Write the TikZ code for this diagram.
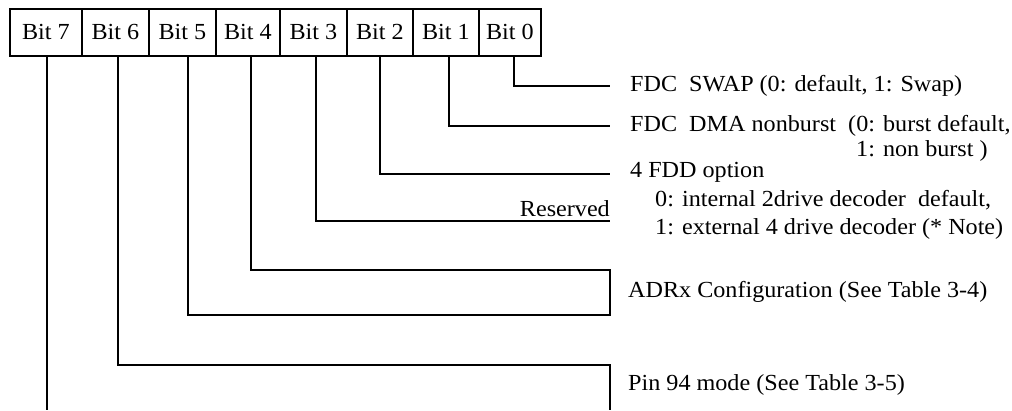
\documentclass[tikz,border=0pt]{standalone}
\usepackage{fontspec}
\setmainfont{Liberation Serif}[FakeStretch=1.05]
\begin{document}
\begin{tikzpicture}[x=1pt,y=-1pt,
  bitbox/.style={draw,line width=1.8pt,minimum height=47pt,inner sep=0pt,anchor=north west,font=\fontsize{23}{27}\selectfont},
  wire/.style={line width=2pt},
  lbl/.style={anchor=west,inner sep=0pt,font=\fontsize{23}{27}\selectfont,align=left}]
\useasboundingbox (0,0) rectangle (1012,410);
\node[bitbox,minimum width=72pt] (b7) at (9,8) {Bit 7};
\node[bitbox,minimum width=67pt] (b6) at (81,8) {Bit 6};
\node[bitbox,minimum width=67pt] (b5) at (148,8) {Bit 5};
\node[bitbox,minimum width=64pt] (b4) at (215,8) {Bit 4};
\node[bitbox,minimum width=67pt] (b3) at (279,8) {Bit 3};
\node[bitbox,minimum width=66pt] (b2) at (346,8) {Bit 2};
\node[bitbox,minimum width=66pt] (b1) at (412,8) {Bit 1};
\node[bitbox,minimum width=62pt] (b0) at (478,8) {Bit 0};
\coordinate (e0) at (610,86);
\coordinate (e1) at (610,126);
\coordinate (e2) at (610,174);
\coordinate (e3) at (610,221);
\coordinate (c4) at (610,270);
\coordinate (c5) at (610,315);
\coordinate (c6) at (610,365);
\coordinate (c7) at (610,410);
\draw[wire] ([xshift=4pt]b0.south) |- (e0);
\draw[wire] ([xshift=3pt]b1.south) |- (e1);
\draw[wire] (b2.south) |- (e2);
\draw[wire] ([xshift=2.5pt]b3.south) |- (e3);
\draw[wire] ([xshift=3pt]b4.south) |- (c4) -- (c5) -| ([xshift=6pt]b5.south);
\draw[wire] ([xshift=2.5pt]b6.south) |- (c6) -- (c7);
\draw[wire] ([xshift=1pt]b7.south) -- ([xshift=1pt]b7.south |- c7);
\node[lbl] (t0) at (630,86) {FDC\ \ SWAP (0: default, 1: Swap)};
\node[lbl] (t1) at (630,126) {FDC\ \ DMA nonburst\ \ (0: burst default,};
\node[lbl] (t1b) at (856,151) {1: non burst )};
\node[lbl] (t2) at (630,172) {4 FDD option};
\node[lbl] (t2a) at (655,200) {0: internal 2drive decoder\ \ default,};
\node[lbl] (t2b) at (655,229) {1: external 4 drive decoder (* Note)};
\node[anchor=south east,inner sep=0pt,font=\fontsize{23}{27}\selectfont] (t3) at (610,217) {Reserved};
\node[lbl] (t4) at (628,292) {ADRx Configuration (See Table 3-4)};
\node[lbl] (t6) at (628,385) {Pin 94 mode (See Table 3-5)};
\end{tikzpicture}
\end{document}
